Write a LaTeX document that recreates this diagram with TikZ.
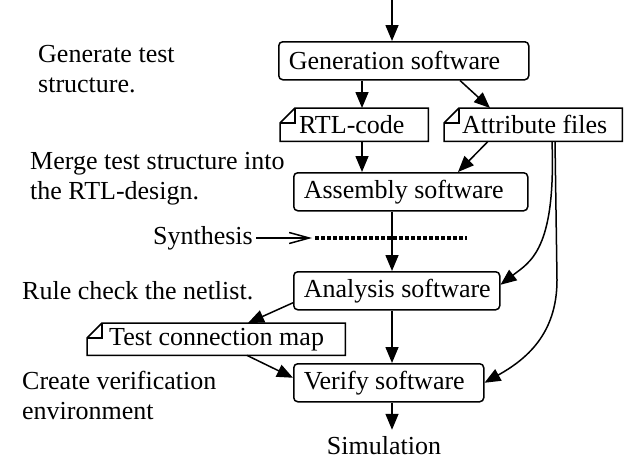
\documentclass[tikz,border=0pt]{standalone}
\usepackage{fontspec}
\setmainfont{Liberation Serif}
\usetikzlibrary{arrows.meta,calc}
\begin{document}
\begin{tikzpicture}[x=1pt,y=-1pt,
  every node/.style={font=\fontsize{26}{30}\selectfont},
  arr/.style={line width=1.5pt,-{Triangle[length=16pt,width=13pt]}},
  proc/.style={draw,line width=1.5pt,rounded corners=4pt,inner xsep=10pt,inner ysep=0pt,
    minimum height=38pt,anchor=north west},
  docnode/.style={inner sep=0pt,minimum height=33pt,anchor=north west},
  docline/.style={line width=1.5pt,line join=miter},
  note/.style={align=left,inner sep=0pt,anchor=north west},
]
\useasboundingbox (0,0) rectangle (628,461);

% process boxes and documents
\node[proc] (gen) at (278,41) {\makebox[230pt][l]{Generation software}};
\node[docnode] (rtl) at (280,108) {\makebox[148pt][l]{\hspace{19pt}RTL-code}};
\node[docnode] (attr) at (444,108) {\makebox[178pt][l]{\hspace{18pt}Attribute files}};
\node[proc] (asm) at (293,172) {\makebox[214pt][l]{Assembly software}};
\node[proc] (ana) at (293,271) {\makebox[186pt][l]{Analysis software}};
\node[docnode,minimum height=32pt] (tcm) at (87,323) {\makebox[258pt][l]{\hspace{22pt}Test connection map}};
\node[proc] (ver) at (293,363) {\makebox[170pt][l]{Verify software}};
\node[anchor=base,inner sep=0pt] (sim) at (384,454) {Simulation};

% document outlines with folded corner
\foreach \d in {rtl,attr,tcm}{
  \draw[docline] ([xshift=15pt]\d.north west) -- (\d.north east) -- (\d.south east)
    -- (\d.south west) -- ([yshift=-15pt]\d.north west) -- cycle;
  \draw[docline] ([yshift=-15pt]\d.north west) -- ([xshift=15pt,yshift=-15pt]\d.north west)
    -- ([xshift=15pt]\d.north west);
}

% step descriptions
\node[note] (n1) at (38,45) {Generate test\\structure.};
\node[note] (n2) at (30,152) {Merge test structure into\\the RTL-design.};
\node[note] (n3) at (22,281) {Rule check the netlist.};
\node[note] (n4) at (22,371) {Create verification\\environment};

% synthesis marker
\node[anchor=east,inner xsep=3pt,inner ysep=0pt] (syn) at (256,238) {Synthesis};
\coordinate (d1) at (312,238);
\coordinate (dl) at (315,238);
\coordinate (dr) at (467,238);
\draw[line width=1.5pt,-{Straight Barb[length=20pt,width=11pt]}] (syn.east) -- (d1);
\draw[line width=3.5pt,dash pattern=on 3.5pt off 2.5pt] (dl) -- (dr);

% columns
\coordinate (top) at (392,0);
\coordinate (xa) at (362,0);

% connectors
\draw[arr] (top) -- (top |- gen.north);
\draw[arr] (gen.south -| xa) -- (rtl.north -| xa);
\draw[arr] ([xshift=182pt]gen.south west) -- ([xshift=46pt]attr.north west);
\draw[arr] (rtl.south -| xa) -- (asm.north -| xa);
\draw[arr] ([xshift=44pt]attr.south west) -- ([xshift=165pt]asm.north west);
\draw[arr] (asm.south -| top) -- (ana.north -| top);
\draw[arr] (ana.south -| top) -- (ver.north -| top);
\draw[arr] (ver.south -| top) -- ([yshift=6pt]sim.north -| top);
\draw[arr] ([yshift=-12pt]ana.west) -- ([xshift=161pt]tcm.north west);
\draw[arr] ([xshift=160pt]tcm.south west) -- ([yshift=5pt]ver.west);
\draw[arr] ([xshift=108pt]attr.south west) .. controls (556,250) and (530,262) .. ([yshift=6pt]ana.east);
\draw[arr] ([xshift=111pt]attr.south west) -- (557,280) .. controls (557,335) and (525,360) .. (ver.east);
\end{tikzpicture}
\end{document}
